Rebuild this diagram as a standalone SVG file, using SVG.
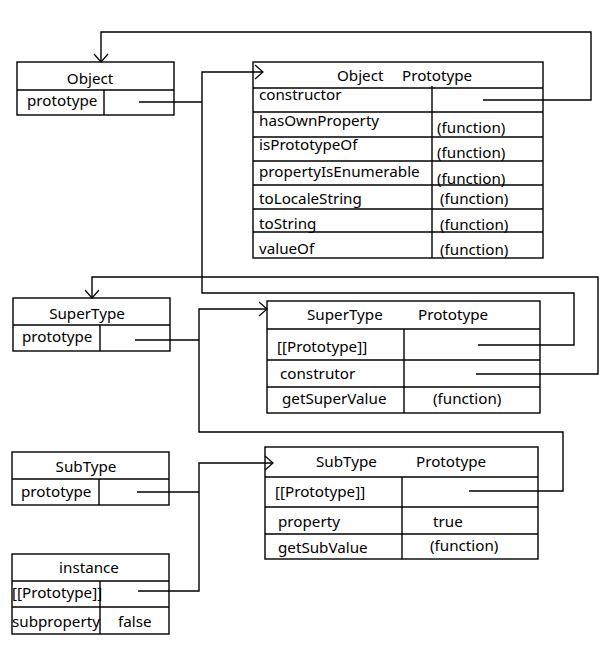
<svg xmlns="http://www.w3.org/2000/svg" width="607" height="654" viewBox="0 0 607 654">
<style>
rect,line{fill:none;stroke:#000;stroke-width:1.4}
.c{fill:none;stroke:#000;stroke-width:1.4}
text{font-family:"Noto Sans","Open Sans","DejaVu Sans",sans-serif;font-size:15.2px;fill:#000}
.m{text-anchor:middle}
</style>
<defs>
<marker id="a" markerUnits="userSpaceOnUse" markerWidth="12" markerHeight="16" refX="9" refY="8" orient="auto">
<path d="M1,1 L9,8 L1,15" fill="none" stroke="#000" stroke-width="1.2"/>
</marker>
</defs>
<rect width="607" height="654" style="fill:#fff;stroke:none"/>
<g id="connectors">
<path class="c" d="M483,100 H591 V32 H101 V62" marker-end="url(#a)"/>
<path class="c" d="M139,102 H202"/>
<path class="c" d="M478,345 H574 V293 H202 V72 H263" marker-end="url(#a)"/>
<path class="c" d="M476,374 H598 V277 H92 V298" marker-end="url(#a)"/>
<path class="c" d="M135,340 H199"/>
<path class="c" d="M469,491 H563 V432 H199 V309 H267" marker-end="url(#a)"/>
<path class="c" d="M137,492 H199"/>
<path class="c" d="M138,591 H199 V463 H273" marker-end="url(#a)"/>
</g>
<g id="object">
<rect x="17" y="62" width="157" height="53"/>
<line x1="17" y1="90" x2="174" y2="90"/>
<line x1="104" y1="90" x2="104" y2="115"/>
<text class="m" x="90" y="84">Object</text>
<text x="27" y="106">prototype</text>
</g>
<g id="object-prototype">
<rect x="253" y="62" width="290" height="196"/>
<line x1="253" y1="88" x2="543" y2="88"/>
<line x1="253" y1="112" x2="543" y2="112"/>
<line x1="253" y1="137" x2="543" y2="137"/>
<line x1="253" y1="161" x2="543" y2="161"/>
<line x1="253" y1="185" x2="543" y2="185"/>
<line x1="253" y1="209" x2="543" y2="209"/>
<line x1="253" y1="232" x2="543" y2="232"/>
<line x1="432" y1="86" x2="432" y2="258"/>
<text y="81"><tspan x="337">Object</tspan><tspan x="402">Prototype</tspan></text>
<text x="259" y="100">constructor</text>
<text x="259" y="126">hasOwnProperty</text>
<text x="259" y="150">isPrototypeOf</text>
<text x="259" y="177">propertyIsEnumerable</text>
<text x="259" y="204">toLocaleString</text>
<text x="259" y="229">toString</text>
<text x="259" y="254">valueOf</text>
<text x="437" y="133">(function)</text>
<text x="437" y="158">(function)</text>
<text x="437" y="184">(function)</text>
<text x="440" y="204">(function)</text>
<text x="440" y="230">(function)</text>
<text x="440" y="255">(function)</text>
</g>
<g id="supertype">
<rect x="13" y="298" width="157" height="53"/>
<line x1="13" y1="325" x2="170" y2="325"/>
<line x1="100" y1="325" x2="100" y2="351"/>
<text class="m" x="87" y="319">SuperType</text>
<text x="22" y="342">prototype</text>
</g>
<g id="supertype-prototype">
<rect x="267" y="301" width="273" height="112"/>
<line x1="267" y1="329" x2="540" y2="329"/>
<line x1="267" y1="360" x2="540" y2="360"/>
<line x1="267" y1="387" x2="540" y2="387"/>
<line x1="404" y1="329" x2="404" y2="413"/>
<text y="320"><tspan x="307">SuperType</tspan><tspan x="418">Prototype</tspan></text>
<text x="277" y="352">[[Prototype]]</text>
<text x="280" y="379">construtor</text>
<text x="282" y="404">getSuperValue</text>
<text x="433" y="404">(function)</text>
</g>
<g id="subtype">
<rect x="12" y="452" width="157" height="53"/>
<line x1="12" y1="479" x2="169" y2="479"/>
<line x1="99" y1="479" x2="99" y2="505"/>
<text class="m" x="86" y="472">SubType</text>
<text x="21" y="497">prototype</text>
</g>
<g id="subtype-prototype">
<rect x="265" y="447" width="273" height="112"/>
<line x1="265" y1="477" x2="538" y2="477"/>
<line x1="265" y1="507" x2="538" y2="507"/>
<line x1="265" y1="534" x2="538" y2="534"/>
<line x1="402" y1="477" x2="402" y2="559"/>
<text y="467"><tspan x="316">SubType</tspan><tspan x="416">Prototype</tspan></text>
<text x="275" y="497">[[Prototype]]</text>
<text x="278" y="527">property</text>
<text x="433" y="527">true</text>
<text x="278" y="553">getSubValue</text>
<text x="430" y="551">(function)</text>
</g>
<g id="instance">
<rect x="12" y="554" width="157" height="80"/>
<line x1="12" y1="581" x2="169" y2="581"/>
<line x1="12" y1="607" x2="169" y2="607"/>
<line x1="100" y1="581" x2="100" y2="634"/>
<text class="m" x="89" y="573">instance</text>
<text x="12" y="598">[[Prototype]]</text>
<text x="12" y="627">subproperty</text>
<text x="118" y="627">false</text>
</g>
</svg>
